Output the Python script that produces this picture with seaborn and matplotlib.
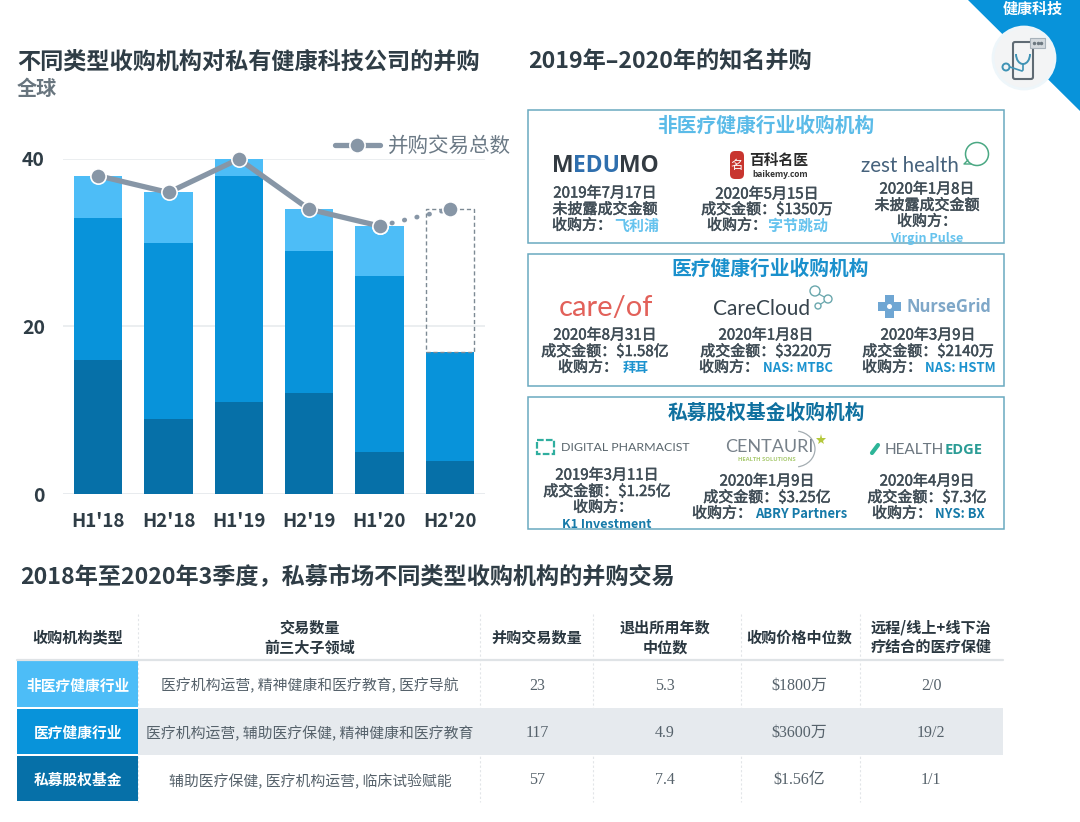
import numpy as np
import matplotlib
matplotlib.use("Agg")
import matplotlib.pyplot as plt
import matplotlib.patheffects as pe
from matplotlib.patches import Rectangle, Circle, Polygon, FancyBboxPatch, Arc
import seaborn as sns

periods = ["H1'18", "H2'18", "H1'19", "H2'19", "H1'20", "H2'20"]
pe_deals = [16, 9, 11, 12, 5, 4]
healthcare_deals = [17, 21, 27, 17, 21, 13]
non_healthcare_deals = [5, 6, 2, 5, 6, 0]
total_deals = [38, 36, 40, 34, 32, 34]
forecast_gap = [17]

box_titles = ["非医疗健康行业收购机构", "医疗健康行业收购机构", "私募股权基金收购机构"]
deal_dates = ["2019年7月17日", "2020年5月15日", "2020年1月8日",
              "2020年8月31日", "2020年1月8日", "2020年3月9日",
              "2019年3月11日", "2020年1月9日", "2020年4月9日"]
deal_amounts = ["未披露成交金额", "成交金额：$1350万", "未披露成交金额",
                "成交金额：$1.58亿", "成交金额：$3220万", "成交金额：$2140万",
                "成交金额：$1.25亿", "成交金额：$3.25亿", "成交金额：$7.3亿"]
deal_buyers = ["飞利浦", "字节跳动", "Virgin Pulse",
               "拜耳", "NAS: MTBC", "NAS: HSTM",
               "K1 Investment", "ABRY Partners", "NYS: BX"]

table_header = ["收购机构类型", "交易数量\n前三大子领域", "并购交易数量", "退出所用年数\n中位数",
                "收购价格中位数", "远程/线上+线下治\n疗结合的医疗保健"]
table_types = ["非医疗健康行业", "医疗健康行业", "私募股权基金"]
table_sectors = ["医疗机构运营, 精神健康和医疗教育, 医疗导航",
                 "医疗机构运营, 辅助医疗保健, 精神健康和医疗教育",
                 "辅助医疗保健, 医疗机构运营, 临床试验赋能"]
table_counts = ["23", "117", "57"]
table_years = ["5.3", "4.9", "7.4"]
table_prices = ["$1800万", "$3600万", "$1.56亿"]
table_remote = ["2/0", "19/2", "1/1"]

LIGHT = "#4dbdf7"
MID = "#0893da"
DARK = "#0670a8"
GREY = "#8796a6"
INK = "#2f3d46"
TEXT = "#3f4c55"
CJK = ["Noto Sans CJK SC", "DejaVu Sans"]
SERIF = ["Liberation Serif", "Noto Sans CJK SC"]

sns.set_theme(style="white")
plt.rcParams["font.family"] = CJK

fig = plt.figure(figsize=(10.8, 8.22), dpi=100, facecolor="white")

# page layer in pixels, y going down
page = fig.add_axes([0, 0, 1, 1], zorder=0)
page.set_xlim(0, 1080)
page.set_ylim(822, 0)
page.axis("off")


def txt(x, y, s, size=10.8, color=TEXT, ha="center", weight="normal", **kw):
    # +1.5: the CJK font sits a little high with va=center
    return page.text(x, y + 1.5, s, fontsize=size, color=color, ha=ha, va="center", fontweight=weight, **kw)


def body(x, y, s, **kw):
    # the deal text is a bit heavier than regular but lighter than bold
    t = txt(x, y, s, **kw)
    t.set_path_effects([pe.withStroke(linewidth=0.35, foreground=TEXT)])


# corner ribbon
page.add_patch(Polygon([(968, 0), (1080, 0), (1080, 111)], color=MID, lw=0))
txt(1033, 7, "健康科技", size=10.8, color="white", weight="bold")
page.add_patch(Circle((1024, 58), 31, fc="#f3f4f5", ec="#eef6fa", lw=2, zorder=3))
page.add_patch(FancyBboxPatch((1013, 42), 20, 37, boxstyle="round,pad=0,rounding_size=2",
                              fc="none", ec="#5f6b74", lw=1.5, zorder=4))
page.add_patch(Rectangle((1030, 38), 15, 10, fc="#d5dade", ec="#a8b2ba", lw=0.8, zorder=5))
page.plot([1034, 1037.5, 1041], [43, 43, 43], ls="", marker="o", ms=1.5, color="#6d7880", zorder=6)
page.add_patch(Arc((1023, 54), 14, 20, theta1=0, theta2=180, ec="#3f93b5", lw=1.4, zorder=5))
page.add_patch(Circle((1006, 67), 3.5, fc="none", ec="#3f93b5", lw=1.4, zorder=5))
page.plot([1010, 1022, 1023, 1023], [67, 71, 70, 64], color="#3f93b5", lw=1.2, zorder=5)

# headings
txt(17, 61, "不同类型收购机构对私有健康科技公司的并购", size=16.7, color=INK, ha="left", weight="bold")
txt(17, 87, "全球", size=14.5, color="#68757e", ha="left", weight="bold")
txt(528, 61, "2019年–2020年的知名并购", size=16.7, color=INK, ha="left", weight="bold")
txt(20, 576, "2018年至2020年3季度，私募市场不同类型收购机构的并购交易", size=16.7, color=INK, ha="left", weight="bold")

# right-hand boxes
box_tops = [110, 254, 397]
box_bottoms = [243, 386, 529]
title_xs = [766, 770, 766]
title_ys = [125, 268, 412]
title_colors = ["#5bbbe8", "#1a90cc", "#0f709f"]
for i in range(3):
    page.add_patch(Rectangle((528, box_tops[i]), 476, box_bottoms[i] - box_tops[i],
                             fc="white", ec="#6aa9c0", lw=1.1))
    txt(title_xs[i], title_ys[i], box_titles[i], size=14.2, color=title_colors[i], weight="bold")

col_x = [605, 767, 927, 605, 766, 928, 607, 767, 927]
line_ys = [(192, 208, 224), (193, 208, 224), (188, 204, 220),
           (334, 350, 366), (334, 350, 366), (334, 350, 366),
           (474, 490, 506), (480, 496, 512), (480, 496, 512)]
label_x = [552, 707, None, 558, 699, 862, None, 692, 872]
buyer_x = [614, 768, 927, 623, 763, 925, 607, 755, 935]
buyer_y = [224, 224, 237, 366, 366, 366, 523, 512, 512]
buyer_col = ["#66c3ee"] * 3 + ["#1c93cf"] * 3 + ["#167aa9"] * 3
for i in range(9):
    y1, y2, y3 = line_ys[i]
    body(col_x[i], y1, deal_dates[i])
    body(col_x[i], y2, deal_amounts[i])
    if label_x[i] is None:
        body(col_x[i] - 4 if i == 6 else col_x[i], y3, "收购方：")
        txt(buyer_x[i], buyer_y[i], deal_buyers[i], size=9, color=buyer_col[i], weight="bold")
    else:
        body(label_x[i], y3, "收购方：", ha="left")
        txt(buyer_x[i], buyer_y[i], deal_buyers[i], size=9.4 if i > 2 else 10.8,
            color=buyer_col[i], ha="left", weight="bold")

# logos, row one
txt(552, 164, "M", size=16.5, color="#333b42", ha="left", weight="bold", family="Open Sans")
txt(573, 164, "EDU", size=16.5, color="#2f6fae", ha="left", weight="bold", family="Open Sans")
txt(619, 164, "MO", size=16.5, color="#333b42", ha="left", weight="bold", family="Open Sans")
page.add_patch(FancyBboxPatch((730, 151), 14, 28, boxstyle="round,pad=0,rounding_size=5", fc="#c8352f", ec="none"))
txt(737, 164, "名", size=9, color="white")
txt(779, 159, "百科名医", size=10.6, color="#2a2a2a", weight="bold")
txt(780, 173, "baikemy.com", size=6, color="#333333", weight="bold", family="Open Sans")
txt(861, 165, "zest health", size=14.8, color="#46627c", ha="left", family="Lato")
page.add_patch(Circle((977, 154), 11.5, fc="none", ec="#4aa883", lw=1.1))
page.plot([968, 964, 971], [160, 164, 164], color="#4aa883", lw=1)

# logos, row two
txt(559, 306, "care/of", size=21, color="#e2615a", ha="left", family="Lato")
txt(713, 307, "CareCloud", size=15, color="#36434c", ha="left", family="Lato")
page.plot([815, 828, 818], [292, 299, 306], color="#6aa7ad", lw=0.9, zorder=2)
for cx, cy, r in [(815, 291, 5), (828, 299, 4), (818, 306, 3)]:
    page.add_patch(Circle((cx, cy), r, fc="white", ec="#6aa7ad", lw=1, zorder=3))
page.add_patch(Rectangle((885, 295), 9, 23, fc="#6fa6d3", ec="none"))
page.add_patch(Rectangle((878, 302), 23, 9, fc="#6fa6d3", ec="none"))
page.add_patch(Circle((889.5, 306.5), 2.5, fc="white", ec="none"))
txt(907, 305, "NurseGrid", size=11.9, color="#7fa7c8", ha="left", weight="bold", family="Open Sans")

# logos, row three
page.add_patch(Rectangle((537, 440), 17, 14, fc="none", ec="#2fae9f", lw=1.6, ls=(0, (3, 1))))
txt(561, 446, "DIGITAL PHARMACIST", size=8.9, color="#5a666d", ha="left", family="Lato")
txt(725, 445, "CENTAURI", size=13, color="#77818a", ha="left", family="Lato")
txt(767, 458, "HEALTH SOLUTIONS", size=4.2, color="#aacb72", family="Open Sans", weight="bold")
page.add_patch(Arc((795, 449), 40, 36, theta1=-80, theta2=80, ec="#a4adb2", lw=0.9))
page.plot([821], [440], marker="*", ms=8, color="#b4c83c", mew=0)
page.plot([872, 878], [453, 445], color="#2db598", lw=3, solid_capstyle="round")
txt(885, 448, "HEALTH", size=11, color="#6c7780", ha="left", family="Lato")
txt(945, 448, "EDGE", size=10.5, color="#2a9c95", ha="left", weight="bold", family="Open Sans")

# table
row_tops = [660, 708, 755]
row_bots = [708, 755, 802]
row_colors = [LIGHT, MID, DARK]
col_centers = [78, 310, 537, 665, 799, 931]
page.add_patch(Rectangle((138, 708), 865, 47, fc="#e6eaee", ec="none"))
for i in range(3):
    page.add_patch(Rectangle((17, row_tops[i] + 1), 121, row_bots[i] - row_tops[i] - 2, fc=row_colors[i], ec="none"))
    txt(col_centers[0], (row_tops[i] + row_bots[i]) / 2, table_types[i], size=10.6, color="white", weight="bold")
    ym = (row_tops[i] + row_bots[i]) / 2
    txt(col_centers[1], ym, table_sectors[i], size=10.7, color="#56626b")
    for c, col in zip(col_centers[2:], [table_counts, table_years, table_prices, table_remote]):
        txt(c, ym, col[i], size=11.5, color="#56626b", family=SERIF)
for c, head in zip(col_centers, table_header):
    txt(c, 636, head, size=10.9, color="#2a3740", weight="bold", linespacing=1.25)
page.plot([17, 1003], [660, 660], color="#dfe3e6", lw=1.6)
for x in [138, 480, 593, 741, 860]:
    page.plot([x, x], [614, 802], color="#e2e5e8", lw=0.8, ls=(0, (2, 2)), zorder=0.8)

# stacked bars and deal line
ax = fig.add_axes([63 / 1080, 1 - 494 / 822, 422 / 1080, 335 / 822], zorder=1, facecolor="none")
x_pos = np.arange(len(periods))
bottom_mid = np.array(pe_deals)
bottom_light = bottom_mid + np.array(healthcare_deals)

sns.barplot(x=periods, y=pe_deals, color=DARK, saturation=1, width=0.69, linewidth=0, ax=ax, zorder=2)
sns.barplot(x=periods, y=healthcare_deals, bottom=bottom_mid, color=MID, saturation=1, width=0.69, linewidth=0, ax=ax, zorder=2)
sns.barplot(x=periods, y=non_healthcare_deals, bottom=bottom_light, color=LIGHT, saturation=1, width=0.69, linewidth=0, ax=ax, zorder=2)
sns.barplot(x=periods[5:], y=forecast_gap, order=periods, bottom=bottom_light[5], fill=False, width=0.69,
            color="#7d8a94", linewidth=1, linestyle=(0, (3, 2)), ax=ax, zorder=2)

sns.lineplot(x=x_pos[4:], y=total_deals[4:], sort=False, color=GREY, lw=3.4, linestyle=(0, (0.1, 2.6)),
             dash_capstyle="round", marker="o", ms=11, markeredgecolor="white", markeredgewidth=1.2,
             clip_on=False, ax=ax, zorder=3)
sns.lineplot(x=x_pos[:5], y=total_deals[:5], sort=False, color=GREY, lw=3.8, marker="o", ms=11,
             markeredgecolor="white", markeredgewidth=1.2, clip_on=False, label="并购交易总数", ax=ax, zorder=4)

ax.set_xlim(-0.5, 5.5)
ax.set_ylim(0, 40)
ax.set_yticks([0, 20, 40])
ax.set_xticks(x_pos)
ax.set_xticklabels(periods)
ax.set_xlabel("")
ax.set_ylabel("")
ax.grid(axis="y", color="#e8ebee", lw=1.2)
ax.set_axisbelow(True)
sns.despine(ax=ax, left=True, bottom=True)
ax.axhline(0, color="#e8ebee", lw=1.2, zorder=1)
ax.tick_params(axis="y", length=0, pad=13, labelsize=14, labelcolor=INK)
ax.tick_params(axis="x", length=0, pad=13, labelsize=13.5, labelcolor=INK)
for lab in ax.get_xticklabels() + ax.get_yticklabels():
    lab.set_fontweight("bold")

ax.legend(loc="center right", bbox_to_anchor=(511 / 1080, 1 - 146 / 822), bbox_transform=fig.transFigure,
          frameon=False, fontsize=14.8, labelcolor="#6c7a86", handlelength=2.2, handletextpad=0.4,
          borderpad=0, borderaxespad=0)

fig.savefig("out.png", dpi=100)
